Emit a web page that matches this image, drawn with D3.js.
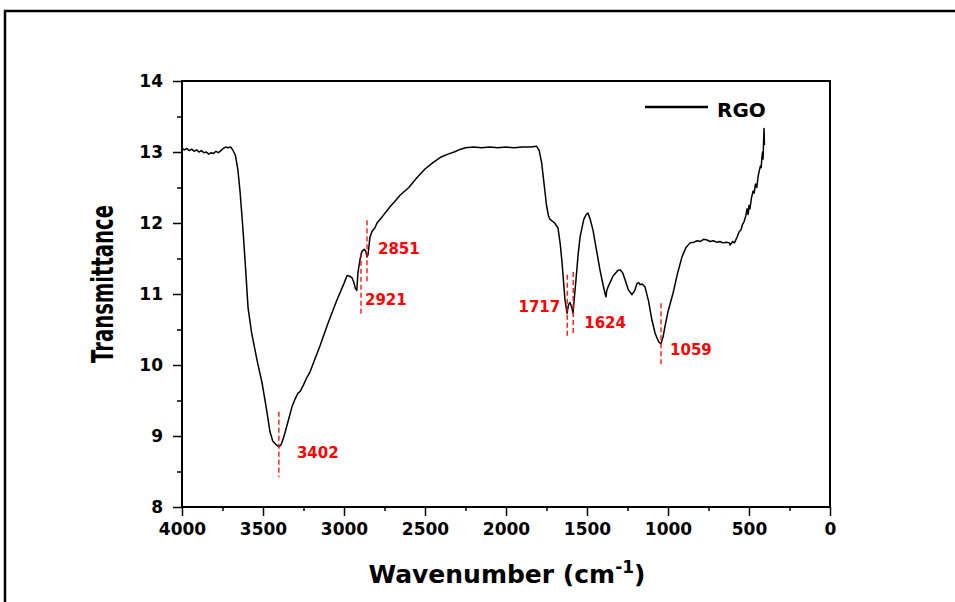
<!DOCTYPE html>
<html>
<head>
<meta charset="utf-8">
<script src="https://cdn.jsdelivr.net/npm/d3@7"></script>
<style>
  body { margin: 0; background: #fff; }
  svg { display: block; font-family: "DejaVu Sans", sans-serif; }
</style>
</head>
<body>
<div id="chart"></div>
<script>
// RGO FTIR spectrum
const wavenumber = [
  4000, 3985, 3970, 3955, 3940, 3925, 3910, 3895, 3880, 3865, 3850, 3835, 3820, 3805, 3790, 3775,
  3760, 3745, 3730, 3715, 3700, 3690, 3680, 3670, 3655, 3642, 3625, 3611, 3592, 3570, 3537, 3506,
  3480, 3457, 3440, 3420, 3402, 3390, 3375, 3364, 3340, 3320, 3302, 3285, 3270, 3250, 3230, 3210,
  3180, 3148, 3100, 3043, 3000, 2981, 2965, 2951, 2940, 2930, 2921, 2914, 2900, 2889, 2875, 2865,
  2858, 2851, 2840, 2827, 2810, 2796, 2760, 2716, 2680, 2654, 2600, 2549, 2500, 2451, 2400, 2358,
  2320, 2280, 2250, 2200, 2150, 2100, 2050, 2000, 1950, 1900, 1850, 1810, 1795, 1780, 1765, 1750,
  1738, 1728, 1700, 1679, 1665, 1654, 1636, 1623, 1614, 1605, 1595, 1586, 1578, 1568, 1555, 1543,
  1520, 1505, 1494, 1480, 1463, 1440, 1420, 1400, 1388, 1383, 1378, 1370, 1340, 1310, 1296, 1280,
  1265, 1245, 1222, 1205, 1191, 1180, 1173, 1160, 1142, 1120, 1099, 1080, 1068, 1055, 1043, 1030,
  1019, 1000, 969, 940, 914, 890, 864, 840, 820, 800, 780, 759, 740, 720, 700, 680,
  660, 640, 620, 617, 600, 590, 574, 560, 550, 540, 530, 520, 512, 505, 500, 494,
  485, 475, 468, 460, 452, 444, 438, 430, 425, 420, 416, 413, 410, 407, 405
];
const transmittance = [
  13.05, 13.03, 13.05, 13.02, 13.04, 13.01, 13.03, 13.00, 13.02, 12.99, 13.00, 12.97, 12.99, 12.98, 13.01, 12.99,
  13.02, 13.05, 13.07, 13.06, 13.07, 13.04, 13.00, 12.95, 12.75, 12.45, 11.95, 11.48, 10.80, 10.45, 10.07, 9.75,
  9.40, 9.06, 8.93, 8.88, 8.85, 8.87, 8.96, 9.05, 9.25, 9.42, 9.52, 9.60, 9.63, 9.72, 9.82, 9.90,
  10.08, 10.27, 10.58, 10.92, 11.15, 11.26, 11.25, 11.23, 11.17, 11.08, 11.05, 11.30, 11.50, 11.60, 11.63, 11.60,
  11.52, 11.56, 11.80, 11.88, 11.93, 12.00, 12.10, 12.23, 12.32, 12.39, 12.50, 12.64, 12.76, 12.85, 12.93, 12.97,
  13.00, 13.04, 13.06, 13.07, 13.06, 13.07, 13.06, 13.07, 13.06, 13.07, 13.07, 13.08, 13.02, 12.85, 12.55, 12.25,
  12.10, 12.05, 12.00, 11.93, 11.70, 11.44, 10.92, 10.73, 10.85, 10.88, 10.82, 10.73, 10.95, 11.20, 11.55, 11.80,
  12.05, 12.12, 12.14, 12.05, 11.90, 11.60, 11.34, 11.12, 11.00, 10.96, 11.05, 11.10, 11.25, 11.33, 11.34, 11.30,
  11.20, 11.06, 10.99, 11.05, 11.15, 11.16, 11.13, 11.14, 11.10, 10.90, 10.63, 10.45, 10.38, 10.32, 10.30, 10.40,
  10.54, 10.75, 11.01, 11.30, 11.52, 11.65, 11.72, 11.73, 11.75, 11.74, 11.77, 11.76, 11.74, 11.75, 11.73, 11.74,
  11.72, 11.73, 11.72, 11.69, 11.74, 11.72, 11.80, 11.88, 11.90, 11.98, 12.02, 12.10, 12.20, 12.12, 12.25, 12.20,
  12.35, 12.45, 12.42, 12.55, 12.50, 12.65, 12.72, 12.80, 12.78, 12.93, 13.00, 12.90, 13.15, 13.33, 13.10
];

// peak markers: label text, where the dashed line sits, its extent, and label height
const peakLabels = ["3402", "2921", "2851", "1717", "1624", "1059"];
const peakLineAt = [3402, 2895, 2858, 1622, 1585, 1043];
const peakLineTop = [9.34, 11.58, 12.04, 11.27, 11.31, 10.87];
const peakLineBottom = [8.42, 10.70, 11.15, 10.38, 10.42, 10.0];
const peakLabelY = [8.69, 10.845, 11.56, 10.75, 10.52, 10.14];

const xTicks = [4000, 3500, 3000, 2500, 2000, 1500, 1000, 500, 0];
const yTicks = [8, 9, 10, 11, 12, 13, 14];
const seriesName = "RGO";

const WIDTH = 955;
const HEIGHT = 602;
const PLOT = { left: 182, right: 830, top: 81, bottom: 507 };

const data = wavenumber.map((w, i) => ({ w, t: transmittance[i] }));

const svg = d3.select("#chart")
  .append("svg")
  .attr("width", WIDTH)
  .attr("height", HEIGHT);

// outer frame, runs off the right and bottom edges
svg.append("rect")
  .attr("x", 5).attr("y", 11)
  .attr("width", 980).attr("height", 620)
  .attr("fill", "none")
  .attr("stroke", "#000")
  .attr("stroke-width", 2.5);

const x = d3.scaleLinear().domain([4000, 0]).range([PLOT.left, PLOT.right]);
const y = d3.scaleLinear().domain([8, 14]).range([PLOT.bottom, PLOT.top]);

function styleAxis(g) {
  g.select(".domain").remove();
  g.selectAll("line").attr("stroke", "#000").attr("stroke-width", 1.5);
  g.selectAll("text")
    .attr("fill", "#000")
    .attr("font-family", "DejaVu Sans")
    .attr("font-weight", "bold")
    .attr("font-size", 17);
}

// minor ticks
svg.append("g")
  .attr("transform", `translate(0,${PLOT.bottom})`)
  .call(d3.axisBottom(x).tickValues(d3.range(250, 4000, 500)).tickSize(4).tickFormat(""))
  .call(styleAxis);
svg.append("g")
  .attr("transform", `translate(${PLOT.left},0)`)
  .call(d3.axisLeft(y).tickValues(d3.range(8.5, 14, 1)).tickSize(5).tickFormat(""))
  .call(styleAxis);

// major ticks
svg.append("g")
  .attr("transform", `translate(0,${PLOT.bottom})`)
  .call(d3.axisBottom(x).tickValues(xTicks).tickSize(9).tickPadding(7).tickFormat(d3.format("d")))
  .call(styleAxis);
svg.append("g")
  .attr("transform", `translate(${PLOT.left},0)`)
  .call(d3.axisLeft(y).tickValues(yTicks).tickSize(9).tickPadding(10).tickFormat(d3.format("d")))
  .call(styleAxis);

// plot frame
svg.append("rect")
  .attr("x", PLOT.left).attr("y", PLOT.top)
  .attr("width", PLOT.right - PLOT.left)
  .attr("height", PLOT.bottom - PLOT.top)
  .attr("fill", "none")
  .attr("stroke", "#000")
  .attr("stroke-width", 2);

// spectrum
const line = d3.line().x((d) => x(d.w)).y((d) => y(d.t));
svg.append("path")
  .datum(data)
  .attr("d", line)
  .attr("fill", "none")
  .attr("stroke", "#000")
  .attr("stroke-width", 1.5)
  .attr("stroke-linejoin", "round");

// peak markers
const labelDx = [18, 4, 11, -7, 11, 9];
const peaks = peakLabels.map((label, i) => ({
  label,
  at: peakLineAt[i],
  top: peakLineTop[i],
  bottom: peakLineBottom[i],
  ly: peakLabelY[i],
  dx: labelDx[i],
}));

svg.append("g")
  .selectAll("line")
  .data(peaks)
  .join("line")
  .attr("x1", (d) => x(d.at))
  .attr("x2", (d) => x(d.at))
  .attr("y1", (d) => y(d.top))
  .attr("y2", (d) => y(d.bottom))
  .attr("stroke", "#ff0000")
  .attr("stroke-width", 1.3)
  .attr("stroke-dasharray", "5,3");

svg.append("g")
  .selectAll("text")
  .data(peaks)
  .join("text")
  .attr("x", (d) => x(d.at) + d.dx)
  .attr("y", (d) => y(d.ly))
  .attr("text-anchor", (d) => (d.dx < 0 ? "end" : "start"))
  .attr("font-weight", "bold")
  .attr("font-size", 15)
  .attr("fill", "#ff0000")
  .text((d) => d.label);

// legend
svg.append("line")
  .attr("x1", 645).attr("x2", 708)
  .attr("y1", 107).attr("y2", 107)
  .attr("stroke", "#000")
  .attr("stroke-width", 2.5);
svg.append("text")
  .attr("x", 717).attr("y", 117)
  .attr("font-weight", "bold")
  .attr("font-size", 20)
  .text(seriesName);

// axis titles
const xTitle = svg.append("text")
  .attr("x", 507).attr("y", 583)
  .attr("text-anchor", "middle")
  .attr("font-weight", "bold")
  .attr("font-size", 25);
xTitle.append("tspan").text("Wavenumber (cm");
xTitle.append("tspan").attr("font-size", 17).attr("dy", -10).text("-1");
xTitle.append("tspan").attr("dy", 10).text(")");

svg.append("text")
  .attr("transform", "translate(113,284) rotate(-90)")
  .attr("text-anchor", "middle")
  .attr("font-weight", "bold")
  .attr("font-size", 30)
  .attr("textLength", 158)
  .attr("lengthAdjust", "spacingAndGlyphs")
  .text("Transmittance");
</script>
</body>
</html>
